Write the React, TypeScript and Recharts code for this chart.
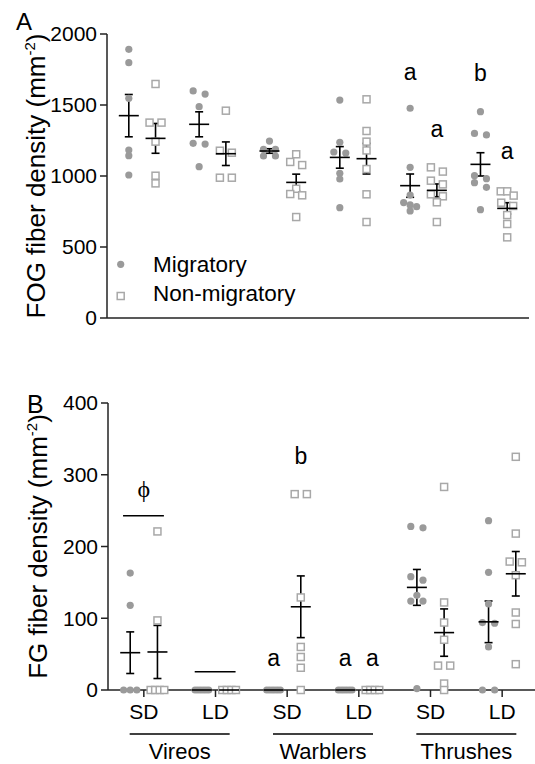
import { ComposedChart, Scatter, XAxis, YAxis, ErrorBar, ReferenceLine, Legend } from "recharts";

const FONT = "'Liberation Sans', Arial, sans-serif";
const DOT = "#9a9a9a";
const SQ = "#a8a8a8";
const SIDE = 0.19;

const dayLength = ["SD", "LD", "SD", "LD", "SD", "LD"];
const families = ["Vireos", "Warblers", "Thrushes"];
const ticksA = [0, 500, 1000, 1500, 2000];
const ticksB = [0, 100, 200, 300, 400];

// panel A: FOG fiber density, one list per group
const fogMig = [
  [1892, 1798, 1547, 1183, 1143, 1007],
  [1599, 1577, 1488, 1230, 1225, 1066],
  [1246, 1188, 1188, 1141, 1141],
  [1535, 1237, 1169, 1162, 1019, 979, 777],
  [1477, 1061, 866, 813, 796, 784, 754],
  [1453, 1300, 1289, 1002, 981, 953, 920, 763],
];
const fogNon = [
  [1648, 1376, 1376, 1242, 1002, 948],
  [1460, 1178, 1164, 988, 988],
  [1153, 1099, 1077, 910, 873, 864, 711],
  [1540, 1317, 1242, 1180, 1049, 871, 676],
  [1061, 1031, 967, 941, 871, 857, 815, 676],
  [892, 892, 862, 812, 789, 725, 662, 568],
];
const fogMigMean = [1425, 1364, 1176, 1131, 932, 1082];
const fogMigSe = [149, 88, 16, 76, 82, 82];
const fogNonMean = [1265, 1157, 955, 1122, 899, 772];
const fogNonSe = [105, 83, 58, 108, 45, 40];

// panel B: FG fiber density
const fgMig = [
  [163, 118, 0, 0, 0],
  [0, 0, 0, 0, 0, 0],
  [0, 0, 0, 0, 0, 0],
  [0, 0, 0, 0, 0, 0],
  [228, 226, 158, 153, 132, 124, 124, 2],
  [236, 164, 120, 94, 93, 60, 0, 0],
];
const fgNon = [
  [221, 97, 0, 0, 0, 0],
  [0, 0, 0, 0],
  [273, 273, 129, 60, 46, 31, 0],
  [0, 0, 0, 0],
  [283, 122, 94, 70, 34, 34, 9, 0],
  [325, 218, 179, 178, 160, 108, 92, 36],
];
const fgMigMean = [52, 0, 0, 0, 143, 95];
const fgMigSe = [29, 0, 0, 0, 25, 29];
const fgNonMean = [53, 0, 116, 0, 80, 162];
const fgNonSe = [37, 0, 43, 0, 33, 31];

// significance letters: group, side (-1 migratory, 1 non-migratory), baseline value
const lettersA = [
  { g: 4, side: -1, y: 1676, t: "a" },
  { g: 4, side: 1, y: 1277, t: "a" },
  { g: 5, side: -1, y: 1669, t: "b" },
  { g: 5, side: 1, y: 1118, t: "a" },
];
const lettersB = [
  { g: 2, side: -1, y: 34, t: "a" },
  { g: 2, side: 1, y: 315, t: "b" },
  { g: 3, side: -1, y: 34, t: "a" },
  { g: 3, side: 1, y: 34, t: "a" },
];
const phiMark = { g: 0, y: 269, t: "ϕ" };
const phiLine = { from: 0.21, to: 0.78, y: 243 };
const vireoLdLine = { from: 1.21, to: 1.78, y: 25.5 };

// spread near-equal values side by side, like a column scatter
function spread(values: number[], thresh: number) {
  const sorted = [...values].sort((a, b) => b - a);
  const out: { v: number; dx: number }[] = [];
  let i = 0;
  while (i < sorted.length) {
    let j = i;
    while (j + 1 < sorted.length && sorted[i] - sorted[j + 1] <= thresh) j++;
    const n = j - i + 1;
    const step = n === 1 ? 0 : n === 2 ? 0.17 : Math.min(0.092, 0.19 / (n - 1));
    for (let k = 0; k < n; k++) out.push({ v: sorted[i + k], dx: (k - (n - 1) / 2) * step });
    i = j + 1;
  }
  return out;
}

const points = (vals: number[][], side: number, thresh: number) =>
  vals.flatMap((g, i) => spread(g, thresh).map((p) => ({ x: i + 0.5 + side * SIDE + p.dx, y: p.v })));

const means = (m: number[], se: number[], side: number) =>
  m.map((v, i) => ({ x: i + 0.5 + side * SIDE, y: v, se: se[i] }));

const letters = (arr: { g: number; side: number; y: number; t: string }[]) =>
  arr.map((l) => ({ x: l.g + 0.5 + l.side * SIDE, y: l.y, t: l.t }));

const Dot = (p: any) => <circle cx={p.cx} cy={p.cy} r={3.6} fill={DOT} />;
const Square = (p: any) => (
  <rect x={p.cx - 3.5} y={p.cy - 3.5} width={7} height={7} fill="#fff" stroke={SQ} strokeWidth={1.5} />
);
const MeanLine = (p: any) => (
  <line x1={p.cx - 10} x2={p.cx + 10} y1={p.cy} y2={p.cy} stroke="#000" strokeWidth={1.6} />
);
const Letter = (p: any) => (
  <text x={p.cx} y={p.cy} textAnchor="middle" fontSize={23} fontFamily={FONT} fill="#000">
    {p.payload.t}
  </text>
);
const Phi = (p: any) => (
  <text x={p.cx} y={p.cy} textAnchor="middle" fontSize={24} fontFamily="'Liberation Serif', serif" fill="#000">
    {p.payload.t}
  </text>
);
const Nothing = () => <g />;

const yTitle = (title: string, dx: number) => (props: any) => {
  const vb = props.viewBox;
  const cx = vb.x + dx;
  const cy = vb.y + vb.height / 2;
  return (
    <text transform={`rotate(-90 ${cx} ${cy})`} x={cx} y={cy} textAnchor="middle" fontSize={26} fontFamily={FONT} fill="#000">
      {title} (mm
      <tspan dy={-10} fontSize={15}>-2</tspan>
      <tspan dy={10}>)</tspan>
    </text>
  );
};

const GroupTick = (p: any) => {
  const { x, y, payload } = p;
  return (
    <g>
      <line x1={x - 50} x2={x + 50} y1={y + 8} y2={y + 8} stroke="#000" strokeWidth={1.5} />
      <text x={x} y={y + 33} textAnchor="middle" fontSize={22} fontFamily={FONT} fill="#000">
        {families[Math.floor(payload.value / 2)]}
      </text>
    </g>
  );
};

const LegendBox = () => (
  <svg width={220} height={70} style={{ overflow: "visible" }}>
    <circle cx={20.7} cy={19.3} r={3.6} fill={DOT} />
    <text x={53} y={27} fontSize={22.5} fontFamily={FONT} fill="#000">Migratory</text>
    <rect x={17.2} y={47.5} width={7} height={7} fill="#fff" stroke={SQ} strokeWidth={1.5} />
    <text x={53} y={56} fontSize={22.5} fontFamily={FONT} fill="#000">Non-migratory</text>
  </svg>
);

const axisProps = { stroke: "#222", strokeWidth: 1.5 };
const tickStyle = { fontSize: 21, fill: "#000", fontFamily: FONT };
const catTicks = [0.5, 1.5, 2.5, 3.5, 4.5, 5.5];
const famTicks = [1, 3, 5];

export default function App() {
  const thrA = 35;
  const thrB = 7;
  return (
    <div style={{ position: "absolute", left: 0, top: 0, width: 535, height: 764, overflow: "hidden", background: "#fff" }}>
      <svg width={535} height={764} style={{ position: "absolute", left: 0, top: 0, pointerEvents: "none" }}>
        <text x={16} y={30} fontSize={24} fontFamily={FONT} fill="#000">A</text>
        <text x={27} y={413} fontSize={25} fontFamily={FONT} fill="#000">B</text>
      </svg>

      <div style={{ position: "absolute", left: 0, top: 0 }}>
        <ComposedChart width={535} height={340} margin={{ top: 34, right: 6, bottom: 0, left: 0 }}>
          <XAxis dataKey="x" type="number" domain={[0, 6]} ticks={catTicks} tick={false} tickSize={7} height={22} {...axisProps} />
          <YAxis dataKey="y" type="number" domain={[0, 2000]} ticks={ticksA} width={107} tickSize={7} tickMargin={3}
            tick={tickStyle} {...axisProps} label={{ content: yTitle("FOG fiber density", 45) }} />
          <Legend layout="horizontal" verticalAlign="middle" align="center" content={LegendBox}
            wrapperStyle={{ position: "absolute", left: 100, top: 245, width: 220, height: 70 }} />
          <Scatter name="Migratory" data={points(fogMig, -1, thrA)} shape={Dot} isAnimationActive={false} />
          <Scatter name="Non-migratory" data={points(fogNon, 1, thrA)} shape={Square} isAnimationActive={false} />
          <Scatter data={means(fogMigMean, fogMigSe, -1)} shape={MeanLine} isAnimationActive={false} legendType="none">
            <ErrorBar dataKey="se" direction="y" width={4} stroke="#000" strokeWidth={1.6} />
          </Scatter>
          <Scatter data={means(fogNonMean, fogNonSe, 1)} shape={MeanLine} isAnimationActive={false} legendType="none">
            <ErrorBar dataKey="se" direction="y" width={4} stroke="#000" strokeWidth={1.6} />
          </Scatter>
          <Scatter data={letters(lettersA)} shape={Letter} isAnimationActive={false} legendType="none" />
        </ComposedChart>
      </div>

      <div style={{ position: "absolute", left: 0, top: 360 }}>
        <ComposedChart width={538} height={404} margin={{ top: 43, right: 0, bottom: 0, left: 0 }}>
          <XAxis dataKey="x" type="number" domain={[0, 6]} ticks={catTicks} tickSize={7} tickMargin={7} height={36}
            tick={tickStyle} tickFormatter={(v: number) => dayLength[Math.floor(v)]} {...axisProps} />
          <XAxis xAxisId="fam" dataKey="x" type="number" domain={[0, 6]} ticks={famTicks} axisLine={false} tickLine={false}
            tickSize={0} tickMargin={0} height={38} tick={GroupTick} />
          <YAxis dataKey="y" type="number" domain={[0, 400]} ticks={ticksB} width={108} tickSize={7} tickMargin={3}
            tick={tickStyle} {...axisProps} label={{ content: yTitle("FG fiber density", 47) }} />
          <Scatter xAxisId="fam" data={famTicks.map((x) => ({ x, y: 0 }))} shape={Nothing} isAnimationActive={false} />
          <Scatter data={points(fgMig, -1, thrB)} shape={Dot} isAnimationActive={false} />
          <Scatter data={points(fgNon, 1, thrB)} shape={Square} isAnimationActive={false} />
          <Scatter data={means(fgMigMean, fgMigSe, -1)} shape={MeanLine} isAnimationActive={false}>
            <ErrorBar dataKey="se" direction="y" width={4} stroke="#000" strokeWidth={1.6} />
          </Scatter>
          <Scatter data={means(fgNonMean, fgNonSe, 1)} shape={MeanLine} isAnimationActive={false}>
            <ErrorBar dataKey="se" direction="y" width={4} stroke="#000" strokeWidth={1.6} />
          </Scatter>
          <ReferenceLine segment={[{ x: phiLine.from, y: phiLine.y }, { x: phiLine.to, y: phiLine.y }]} stroke="#000" strokeWidth={1.5} ifOverflow="visible" />
          <ReferenceLine segment={[{ x: vireoLdLine.from, y: vireoLdLine.y }, { x: vireoLdLine.to, y: vireoLdLine.y }]} stroke="#000" strokeWidth={1.5} ifOverflow="visible" />
          <Scatter data={[{ x: phiMark.g + 0.5, y: phiMark.y, t: phiMark.t }]} shape={Phi} isAnimationActive={false} />
          <Scatter data={letters(lettersB)} shape={Letter} isAnimationActive={false} />
        </ComposedChart>
      </div>
    </div>
  );
}
